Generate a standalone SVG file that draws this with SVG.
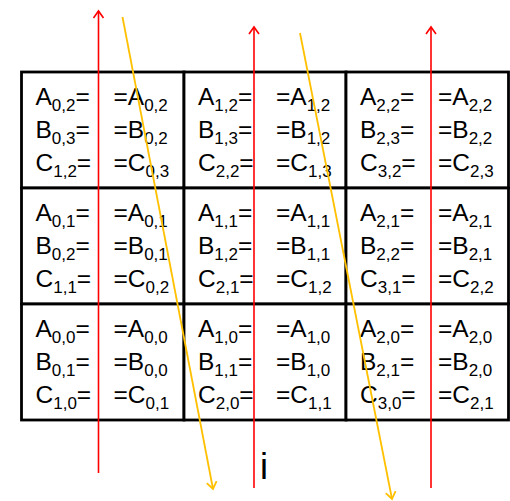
<svg xmlns="http://www.w3.org/2000/svg" width="510" height="501" viewBox="0 0 510 501">
<style>
.cell{fill:#fff;stroke:#000;stroke-width:2.8}
.t{font-family:"Liberation Sans",Arial,sans-serif;font-size:24.5px;fill:#000}
.s{font-size:17px}
.red{stroke:#ff0000;stroke-width:1.6;fill:none}
.yel{stroke:#ffc000;stroke-width:1.8;fill:none}
.lbl{font-family:"Liberation Sans",Arial,sans-serif;font-size:36px;fill:#000}
</style>
<defs>
<marker id="ar" markerUnits="userSpaceOnUse" markerWidth="14" markerHeight="14" refX="0" refY="0" viewBox="-8 -7 10 14" orient="auto" overflow="visible">
<path d="M-7,-5 L0,0 L-7,5" fill="none" stroke="#ff0000" stroke-width="1.6"/>
</marker>
<marker id="ay" markerUnits="userSpaceOnUse" markerWidth="14" markerHeight="14" refX="0" refY="0" viewBox="-8 -7 10 14" orient="auto" overflow="visible">
<path d="M-7,-5 L0,0 L-7,5" fill="none" stroke="#ffc000" stroke-width="1.8"/>
</marker>
</defs>

<g id="cell-0-2">
<rect class="cell" x="21.5" y="72" width="162.5" height="116"/>
<text class="t" x="35.5" y="105">A<tspan class="s" dy="6">0,2</tspan><tspan dy="-6">=</tspan></text>
<text class="t" x="35.5" y="138">B<tspan class="s" dy="6">0,3</tspan><tspan dy="-6">=</tspan></text>
<text class="t" x="35.5" y="171">C<tspan class="s" dy="6">1,2</tspan><tspan dy="-6">=</tspan></text>
<text class="t" x="113.5" y="105">=A<tspan class="s" dy="6">0,2</tspan></text>
<text class="t" x="113.5" y="138">=B<tspan class="s" dy="6">0,2</tspan></text>
<text class="t" x="113.5" y="171">=C<tspan class="s" dy="6">0,3</tspan></text>
</g>
<g id="cell-1-2">
<rect class="cell" x="184" y="72" width="162" height="116"/>
<text class="t" x="198" y="105">A<tspan class="s" dy="6">1,2</tspan><tspan dy="-6">=</tspan></text>
<text class="t" x="198" y="138">B<tspan class="s" dy="6">1,3</tspan><tspan dy="-6">=</tspan></text>
<text class="t" x="198" y="171">C<tspan class="s" dy="6">2,2</tspan><tspan dy="-6">=</tspan></text>
<text class="t" x="276" y="105">=A<tspan class="s" dy="6">1,2</tspan></text>
<text class="t" x="276" y="138">=B<tspan class="s" dy="6">1,2</tspan></text>
<text class="t" x="276" y="171">=C<tspan class="s" dy="6">1,3</tspan></text>
</g>
<g id="cell-2-2">
<rect class="cell" x="346" y="72" width="162.5" height="116"/>
<text class="t" x="360" y="105">A<tspan class="s" dy="6">2,2</tspan><tspan dy="-6">=</tspan></text>
<text class="t" x="360" y="138">B<tspan class="s" dy="6">2,3</tspan><tspan dy="-6">=</tspan></text>
<text class="t" x="360" y="171">C<tspan class="s" dy="6">3,2</tspan><tspan dy="-6">=</tspan></text>
<text class="t" x="438" y="105">=A<tspan class="s" dy="6">2,2</tspan></text>
<text class="t" x="438" y="138">=B<tspan class="s" dy="6">2,2</tspan></text>
<text class="t" x="438" y="171">=C<tspan class="s" dy="6">2,3</tspan></text>
</g>

<g id="cell-0-1">
<rect class="cell" x="21.5" y="188" width="162.5" height="116"/>
<text class="t" x="35.5" y="221">A<tspan class="s" dy="6">0,1</tspan><tspan dy="-6">=</tspan></text>
<text class="t" x="35.5" y="254">B<tspan class="s" dy="6">0,2</tspan><tspan dy="-6">=</tspan></text>
<text class="t" x="35.5" y="287">C<tspan class="s" dy="6">1,1</tspan><tspan dy="-6">=</tspan></text>
<text class="t" x="113.5" y="221">=A<tspan class="s" dy="6">0,1</tspan></text>
<text class="t" x="113.5" y="254">=B<tspan class="s" dy="6">0,1</tspan></text>
<text class="t" x="113.5" y="287">=C<tspan class="s" dy="6">0,2</tspan></text>
</g>
<g id="cell-1-1">
<rect class="cell" x="184" y="188" width="162" height="116"/>
<text class="t" x="198" y="221">A<tspan class="s" dy="6">1,1</tspan><tspan dy="-6">=</tspan></text>
<text class="t" x="198" y="254">B<tspan class="s" dy="6">1,2</tspan><tspan dy="-6">=</tspan></text>
<text class="t" x="198" y="287">C<tspan class="s" dy="6">2,1</tspan><tspan dy="-6">=</tspan></text>
<text class="t" x="276" y="221">=A<tspan class="s" dy="6">1,1</tspan></text>
<text class="t" x="276" y="254">=B<tspan class="s" dy="6">1,1</tspan></text>
<text class="t" x="276" y="287">=C<tspan class="s" dy="6">1,2</tspan></text>
</g>
<g id="cell-2-1">
<rect class="cell" x="346" y="188" width="162.5" height="116"/>
<text class="t" x="360" y="221">A<tspan class="s" dy="6">2,1</tspan><tspan dy="-6">=</tspan></text>
<text class="t" x="360" y="254">B<tspan class="s" dy="6">2,2</tspan><tspan dy="-6">=</tspan></text>
<text class="t" x="360" y="287">C<tspan class="s" dy="6">3,1</tspan><tspan dy="-6">=</tspan></text>
<text class="t" x="438" y="221">=A<tspan class="s" dy="6">2,1</tspan></text>
<text class="t" x="438" y="254">=B<tspan class="s" dy="6">2,1</tspan></text>
<text class="t" x="438" y="287">=C<tspan class="s" dy="6">2,2</tspan></text>
</g>

<g id="cell-0-0">
<rect class="cell" x="21.5" y="304" width="162.5" height="116"/>
<text class="t" x="35.5" y="337">A<tspan class="s" dy="6">0,0</tspan><tspan dy="-6">=</tspan></text>
<text class="t" x="35.5" y="370">B<tspan class="s" dy="6">0,1</tspan><tspan dy="-6">=</tspan></text>
<text class="t" x="35.5" y="403">C<tspan class="s" dy="6">1,0</tspan><tspan dy="-6">=</tspan></text>
<text class="t" x="113.5" y="337">=A<tspan class="s" dy="6">0,0</tspan></text>
<text class="t" x="113.5" y="370">=B<tspan class="s" dy="6">0,0</tspan></text>
<text class="t" x="113.5" y="403">=C<tspan class="s" dy="6">0,1</tspan></text>
</g>
<g id="cell-1-0">
<rect class="cell" x="184" y="304" width="162" height="116"/>
<text class="t" x="198" y="337">A<tspan class="s" dy="6">1,0</tspan><tspan dy="-6">=</tspan></text>
<text class="t" x="198" y="370">B<tspan class="s" dy="6">1,1</tspan><tspan dy="-6">=</tspan></text>
<text class="t" x="198" y="403">C<tspan class="s" dy="6">2,0</tspan><tspan dy="-6">=</tspan></text>
<text class="t" x="276" y="337">=A<tspan class="s" dy="6">1,0</tspan></text>
<text class="t" x="276" y="370">=B<tspan class="s" dy="6">1,0</tspan></text>
<text class="t" x="276" y="403">=C<tspan class="s" dy="6">1,1</tspan></text>
</g>
<g id="cell-2-0">
<rect class="cell" x="346" y="304" width="162.5" height="116"/>
<text class="t" x="360" y="337">A<tspan class="s" dy="6">2,0</tspan><tspan dy="-6">=</tspan></text>
<text class="t" x="360" y="370">B<tspan class="s" dy="6">2,1</tspan><tspan dy="-6">=</tspan></text>
<text class="t" x="360" y="403">C<tspan class="s" dy="6">3,0</tspan><tspan dy="-6">=</tspan></text>
<text class="t" x="438" y="337">=A<tspan class="s" dy="6">2,0</tspan></text>
<text class="t" x="438" y="370">=B<tspan class="s" dy="6">2,0</tspan></text>
<text class="t" x="438" y="403">=C<tspan class="s" dy="6">2,1</tspan></text>
</g>

<g id="connectors">
<line class="red" x1="98.5" y1="473" x2="98.5" y2="11" marker-end="url(#ar)"/>
<line class="red" x1="254" y1="488" x2="254" y2="27" marker-end="url(#ar)"/>
<line class="red" x1="431" y1="488" x2="431" y2="27" marker-end="url(#ar)"/>
<line class="yel" x1="122.5" y1="17" x2="213" y2="489" marker-end="url(#ay)"/>
<line class="yel" x1="300" y1="33" x2="392" y2="499" marker-end="url(#ay)"/>
</g>

<text class="lbl" x="260" y="479">i</text>
</svg>
